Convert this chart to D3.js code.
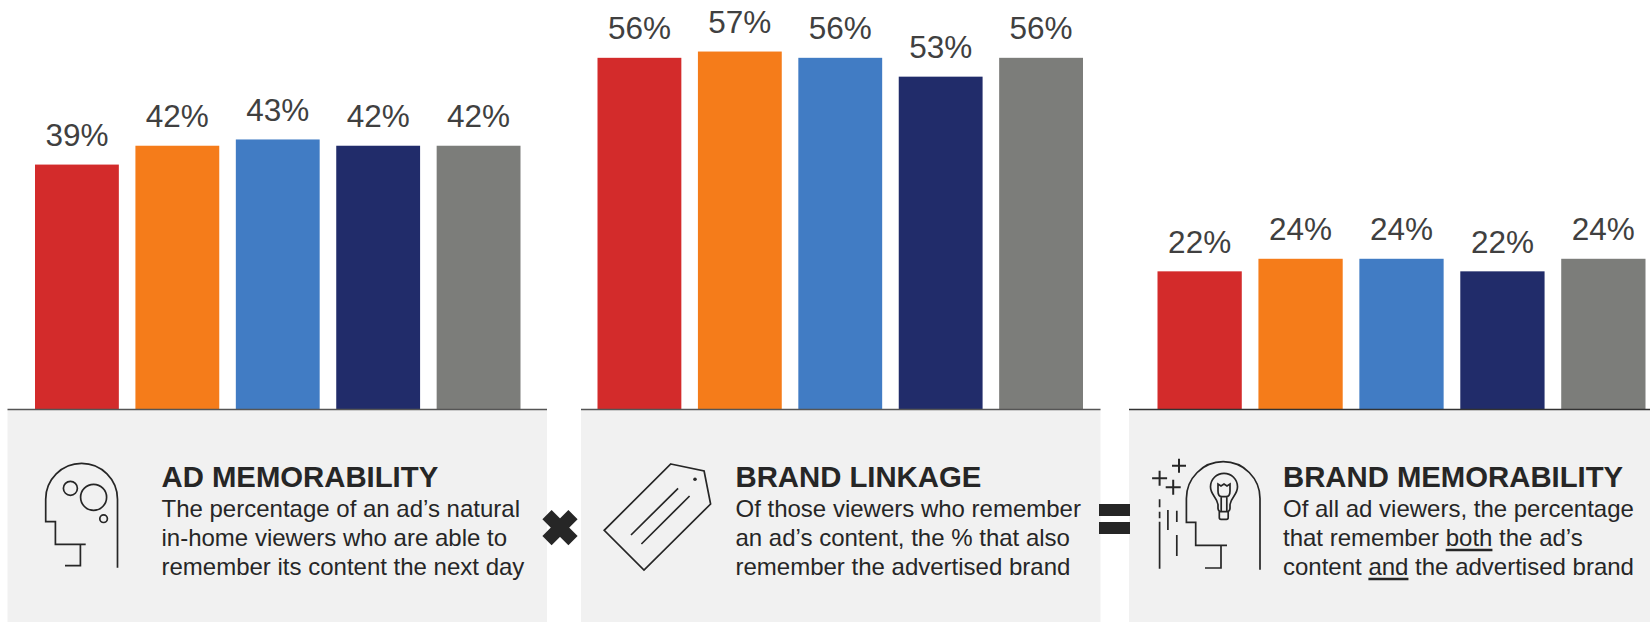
<!DOCTYPE html>
<html>
<head>
<meta charset="utf-8">
<script src="https://cdn.jsdelivr.net/npm/d3@7"></script>
<style>
  html, body { margin: 0; padding: 0; background: #fff; }
  svg { display: block; }
  text { font-family: "Liberation Sans", Arial, sans-serif; }
</style>
</head>
<body>
<svg id="chart" width="1650" height="622"></svg>
<script>
// Values for the five bars of each panel
const barIndex = [0, 1, 2, 3, 4];
const adMemorability = [39, 42, 43, 42, 42];
const brandLinkage = [56, 57, 56, 53, 56];
const brandMemorability = [22, 24, 24, 22, 24];
const barColors = ["#d32b2b", "#f57c1a", "#417cc4", "#212c6a", "#7c7d7a"];

const headings = ["AD MEMORABILITY", "BRAND LINKAGE", "BRAND MEMORABILITY"];
const descriptions = [
  ["The percentage of an ad’s natural", "in-home viewers who are able to", "remember its content the next day"],
  ["Of those viewers who remember", "an ad’s content, the % that also", "remember the advertised brand"],
  ["Of all ad viewers, the percentage", "that remember both the ad’s", "content and the advertised brand"]
];

const svg = d3.select("#chart");
const ink = "#262626";
const baseY = 409.5;
const y = d3.scaleLinear().domain([0, 100]).range([baseY, baseY - 628]);

const panels = [
  { values: adMemorability, box: [7.5, 547], bars: [35, 520.5], textX: 161.5 },
  { values: brandLinkage, box: [581, 1100.5], bars: [597.5, 1083], textX: 735.5 },
  { values: brandMemorability, box: [1129, 1650], bars: [1157.5, 1645.5], textX: 1283 }
];

panels.forEach((p, i) => {
  const g = svg.append("g");

  // Grey caption block under the bars
  g.append("rect")
    .attr("x", p.box[0]).attr("y", baseY)
    .attr("width", p.box[1] - p.box[0]).attr("height", 622 - baseY)
    .attr("fill", "#f1f1f1");

  const x = d3.scaleBand()
    .domain(barIndex)
    .range(p.bars)
    .paddingInner(0.165);

  g.selectAll("rect.bar").data(p.values).join("rect")
    .attr("class", "bar")
    .attr("x", (d, k) => x(k))
    .attr("y", d => y(d))
    .attr("width", x.bandwidth())
    .attr("height", d => baseY - y(d))
    .attr("fill", (d, k) => barColors[k]);

  g.selectAll("text.value").data(p.values).join("text")
    .attr("class", "value")
    .attr("x", (d, k) => x(k) + x.bandwidth() / 2)
    .attr("y", d => y(d) - 18.5)
    .attr("text-anchor", "middle")
    .attr("font-size", 31.5)
    .attr("fill", "#404040")
    .text(d => d + "%");

  // Axis baseline
  g.append("line")
    .attr("x1", p.box[0]).attr("x2", p.box[1])
    .attr("y1", baseY).attr("y2", baseY)
    .attr("stroke", i === 2 ? "#333" : "#555")
    .attr("stroke-width", 1.4);

  g.append("text")
    .attr("x", p.textX).attr("y", 487)
    .attr("font-size", 29.3).attr("font-weight", "bold")
    .attr("fill", ink)
    .text(headings[i]);

  g.selectAll("text.desc").data(descriptions[i]).join("text")
    .attr("class", "desc")
    .attr("x", p.textX)
    .attr("y", (d, k) => [516.5, 545.5, 574.5][k])
    .attr("font-size", 24)
    .attr("fill", ink)
    .text(d => d);
});

// Underline a word inside a description line, measured from the rendered text
function underline(lineText, word, offset) {
  svg.selectAll("text.desc").filter(d => d === lineText).each(function () {
    const start = lineText.indexOf(word);
    const x0 = this.getStartPositionOfChar(start);
    const x1 = this.getEndPositionOfChar(start + word.length - 1);
    svg.append("line")
      .attr("x1", x0.x).attr("x2", x1.x)
      .attr("y1", x0.y + offset).attr("y2", x0.y + offset)
      .attr("stroke", ink).attr("stroke-width", 2.4);
  });
}
underline(descriptions[2][1], "both", 4.5);
underline(descriptions[2][2], "and", 4.5);

// Line icons
const icons = svg.append("g")
  .attr("fill", "none").attr("stroke", ink).attr("stroke-width", 1.7);

// Head outline shared by the first and third icons
function head(cx, top, r, neckX, jawY, chinX, stemX, lipY, lipX, noseY, endY) {
  const cy = top + r;
  icons.append("path").attr("d",
    `M${cx + r},${endY}V${cy}A${r},${r} 0 0 0 ${cx - r},${cy}V${noseY}H${neckX}V${jawY}H${chinX}` +
    `M${stemX},${jawY}V${lipY}H${lipX}`);
}

head(81.6, 463.3, 35.9, 55.4, 544.3, 85.7, 80.4, 565.7, 65, 521.7, 567.7);
[[70.4, 488.3, 7], [93.6, 497.3, 13], [103.6, 518.7, 3.8]].forEach(c => {
  icons.append("circle").attr("cx", c[0]).attr("cy", c[1]).attr("r", c[2]);
});

// Price tag
icons.append("path").attr("d", "M670.8,464L704.1,471L710.6,504L644,570L604.2,530.3Z");
icons.append("circle").attr("cx", 695).attr("cy", 479.3).attr("r", 1.8).attr("fill", ink).attr("stroke", "none");
icons.append("path").attr("d", "M678.1,488.3L631,535M689.6,496L641.4,544");

// Head with light bulb, sparks and trailing dashes
head(1223.2, 461.7, 36.8, 1195.7, 545.3, 1227, 1221, 568, 1205, 522.3, 569.7);
icons.append("path").attr("d",
  "M1218,504.5C1217,497 1210.5,495 1210.5,486.8A13.5,13.5 0 0 1 1237.5,486.8C1237.5,495 1231,497 1230,504.5V508Q1230,511.7 1226,511.7H1222Q1218,511.7 1218,508Z" +
  "M1219.3,511.7V517.5Q1219.3,519.3 1221,519.3H1226.5Q1228.2,519.3 1228.2,517.5V511.7");
icons.append("path").attr("d",
  "M1218,484V491Q1218,496.7 1222,496.7H1226Q1230,496.7 1230,491V484L1227,486L1224,484L1221,486Z" +
  "M1221.2,496.7V511.7M1226.8,496.7V511.7");
icons.append("path").attr("stroke-width", 2).attr("d",
  "M1179,458.7V472.7M1172,465.7H1186M1159.6,470.8V485.8M1152.1,478.3H1167.1M1173.2,479.8V494.8M1165.7,487.3H1180.7");
icons.append("path").attr("d",
  "M1159.6,499.3V507.3M1159.6,511.7V518.3M1159.6,521.7V568.7M1167.9,510V530M1176.8,510.7V522M1176.8,535V556");

// Multiplication and equals signs between the panels
svg.append("path")
  .attr("d", "M547,515L573,541M573,515L547,541")
  .attr("transform", "translate(0,-0.3)")
  .attr("stroke", ink).attr("stroke-width", 13).attr("fill", "none");
svg.append("path")
  .attr("d", "M1099,510H1130M1099,528H1130")
  .attr("stroke", ink).attr("stroke-width", 12).attr("fill", "none");
</script>
</body>
</html>
